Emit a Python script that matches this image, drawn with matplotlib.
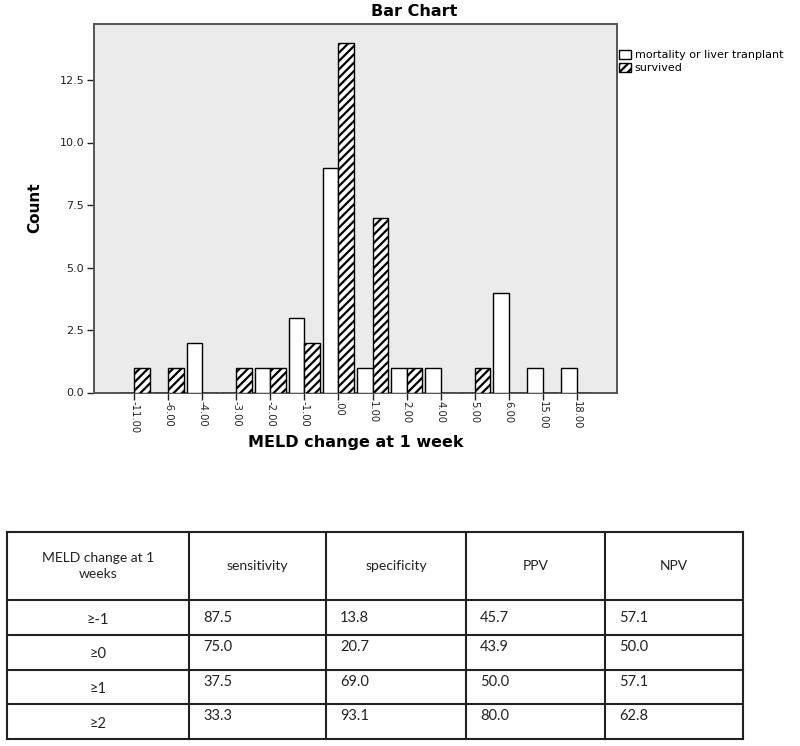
import matplotlib
matplotlib.use("Agg")
import matplotlib.pyplot as plt
from matplotlib.patches import Patch
import numpy as np

plt.rcParams['font.family'] = ['DejaVu Sans']
plt.rcParams['hatch.linewidth'] = 1.6

categories = ["-11.00", "-6.00", "-4.00", "-3.00", "-2.00", "-1.00", ".00",
              "1.00", "2.00", "4.00", "5.00", "6.00", "15.00", "18.00"]
mortality = [0, 0, 2, 0, 1, 3, 9, 1, 1, 1, 0, 4, 1, 1]
survived = [1, 1, 0, 1, 1, 2, 14, 7, 1, 0, 1, 0, 0, 0]
yticks = [0.0, 2.5, 5.0, 7.5, 10.0, 12.5]
series_names = ["mortality or liver tranplant", "survived"]

table_header = ["MELD change at 1\nweeks", "sensitivity", "specificity", "PPV", "NPV"]
thresholds = ["≥-1", "≥0", "≥1", "≥2"]
sensitivity = ["87.5", "75.0", "37.5", "33.3"]
specificity = ["13.8", "20.7", "69.0", "93.1"]
ppv = ["45.7", "43.9", "50.0", "80.0"]
npv = ["57.1", "50.0", "57.1", "62.8"]

W, H = 800, 746
fig = plt.figure(figsize=(W / 100, H / 100), dpi=100)

# ---- bar chart ----
L, R, T, B = 94, 617, 24, 392.5
ax = fig.add_axes([L / W, 1 - B / H, (R - L) / W, (B - T) / H])
ax.set_facecolor('#ebebeb')
x = np.arange(len(categories))
bw = 0.45
ax.bar(x - bw / 2, mortality, width=bw, color='white', edgecolor='black', linewidth=1.0, zorder=3)
ax.bar(x + bw / 2, survived, width=bw, color='white', edgecolor='black', hatch='////', linewidth=1.0, zorder=3)
ax.set_xlim(-1.18, len(categories) - 1 + 1.18)
ax.set_ylim(0, 14.74)
ax.set_yticks(yticks)
ax.set_yticklabels([f"{v:.1f}" for v in yticks], fontsize=8, color='#222222')
ax.set_xticks(x)
ax.set_xticklabels(categories, rotation=270, fontsize=7.2, color='#222222')
ax.tick_params(axis='both', length=5, width=1, color='#222222', pad=2)
ax.tick_params(axis='x', pad=1)
for s in ax.spines.values():
    s.set_color('#555555')
    s.set_linewidth(1.4)
fig.text(35 / W, 1 - 208 / H, "Count", rotation=90, ha='center', va='center',
         fontsize=11, fontweight='bold')
fig.text(356 / W, 1 - 443 / H, "MELD change at 1 week", ha='center', va='center',
         fontsize=11.5, fontweight='bold')
fig.text(414 / W, 1 - 12 / H, "Bar Chart", ha='center', va='center',
         fontsize=11.5, fontweight='bold')

handles = [Patch(facecolor='white', edgecolor='black', label=series_names[0]),
           Patch(facecolor='white', edgecolor='black', hatch='////', label=series_names[1])]
fig.legend(handles=handles, loc='upper left', bbox_to_anchor=(619 / W, 1 - 50 / H),
           frameon=False, fontsize=8, handlelength=1.1, handleheight=0.9,
           handletextpad=0.3, labelspacing=0.2, borderaxespad=0, borderpad=0)

# ---- table ----
tax = fig.add_axes([0, 0, 1, 1])
tax.set_xlim(0, W)
tax.set_ylim(H, 0)
tax.axis('off')
cols = [7, 189, 326, 466, 605, 743]
rows = [532, 600, 635, 670, 704, 739]
for cx in cols:
    tax.plot([cx, cx], [rows[0], rows[-1]], color='#222222', lw=1.5)
for ry in rows:
    tax.plot([cols[0], cols[-1]], [ry, ry], color='#222222', lw=1.5)

tfont = ['Lato', 'DejaVu Sans']
hy = (rows[0] + rows[1]) / 2
for i, h in enumerate(table_header):
    tax.text((cols[i] + cols[i + 1]) / 2, hy, h, ha='center', va='center',
             fontsize=10, family=tfont, linespacing=1.4, color='#222222')

columns_data = [sensitivity, specificity, ppv, npv]
for r in range(len(thresholds)):
    y0, y1 = rows[r + 1], rows[r + 2]
    ty = (y0 + y1) / 2 if r == 0 else y0 + 12
    tax.text((cols[0] + cols[1]) / 2, (y0 + y1) / 2 + 2, thresholds[r], ha='center', va='center',
             fontsize=10.5, family=tfont, color='#222222')
    for c, col in enumerate(columns_data):
        tax.text(cols[c + 1] + 14, ty, col[r], ha='left', va='center',
                 fontsize=10.5, family=tfont, color='#222222')

fig.savefig("out.png", dpi=100)
